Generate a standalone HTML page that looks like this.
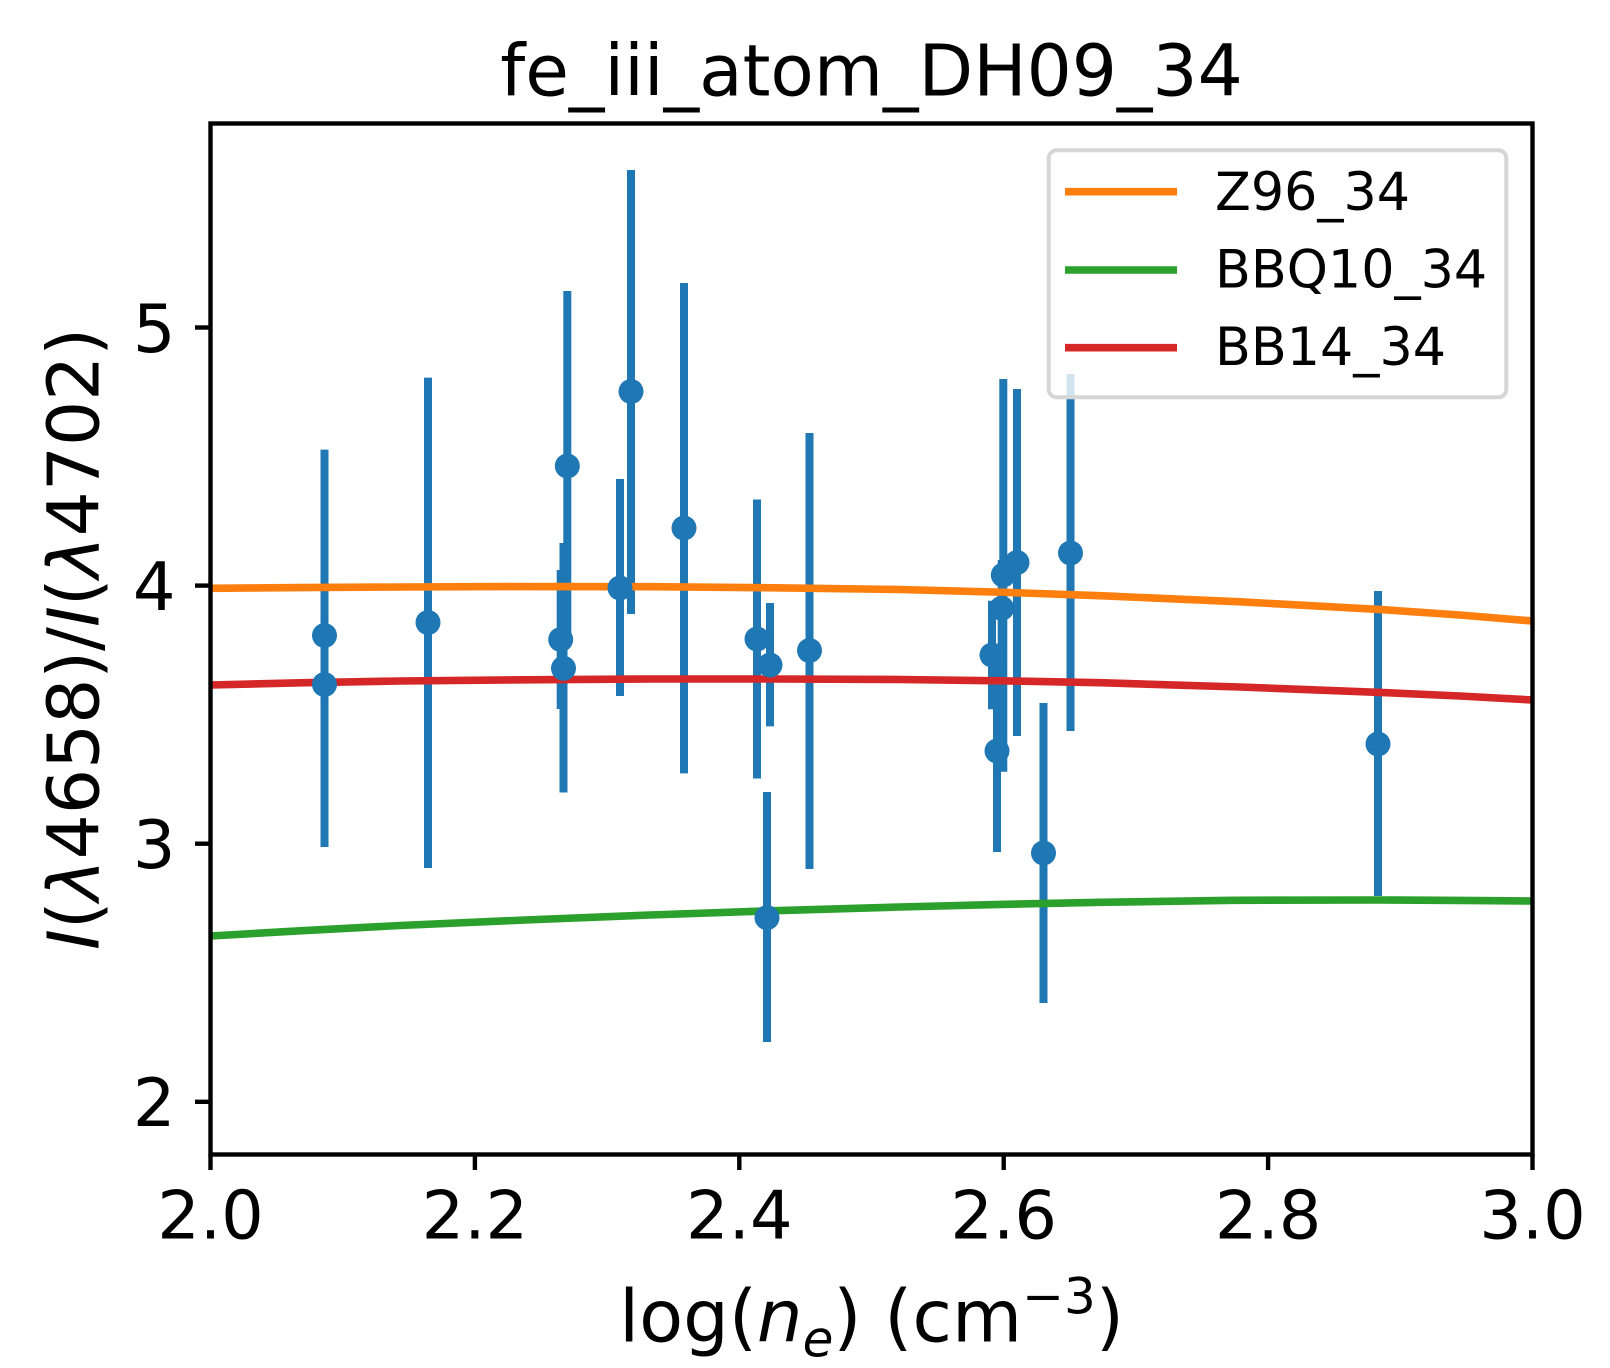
<!DOCTYPE html>
<html>
<head>
<meta charset="utf-8">
<style>
  html, body { margin: 0; padding: 0; background: #ffffff; }
  svg { display: block; }
  text { font-family: "DejaVu Sans", "Liberation Sans", sans-serif; fill: #000; }
</style>
</head>
<body>
<svg width="1610" height="1368" viewBox="0 0 1610 1368" xmlns="http://www.w3.org/2000/svg">
  <rect x="0" y="0" width="1610" height="1368" fill="#ffffff"/>
  <defs>
    <clipPath id="ax"><rect x="210.5" y="123.5" width="1322" height="1031"/></clipPath>
  </defs>

  <!-- Title -->
  <text x="871.5" y="95.5" font-size="71" text-anchor="middle">fe_iii_atom_DH09_34</text>

  <g clip-path="url(#ax)">
    <!-- error bars -->
    <g stroke="#1f77b4" stroke-width="8" fill="none">
      <line x1="324.5" y1="449.6" x2="324.5" y2="822"/>
      <line x1="324.5" y1="521" x2="324.5" y2="847"/>
      <line x1="428" y1="377.6" x2="428" y2="868"/>
      <line x1="560.7" y1="570" x2="560.7" y2="709"/>
      <line x1="563.5" y1="543" x2="563.5" y2="792.5"/>
      <line x1="567.3" y1="291" x2="567.3" y2="641"/>
      <line x1="620" y1="479" x2="620" y2="696"/>
      <line x1="631" y1="170" x2="631" y2="614"/>
      <line x1="684" y1="283" x2="684" y2="773.4"/>
      <line x1="757" y1="499.5" x2="757" y2="778.5"/>
      <line x1="767" y1="792" x2="767" y2="1042"/>
      <line x1="770" y1="603" x2="770" y2="726.4"/>
      <line x1="809.5" y1="433" x2="809.5" y2="869"/>
      <line x1="992" y1="600.7" x2="992" y2="709.3"/>
      <line x1="997" y1="649" x2="997" y2="852"/>
      <line x1="1001.7" y1="560" x2="1001.7" y2="656"/>
      <line x1="1003.3" y1="379" x2="1003.3" y2="771.7"/>
      <line x1="1017" y1="389" x2="1017" y2="736"/>
      <line x1="1043.5" y1="703" x2="1043.5" y2="1003"/>
      <line x1="1070.5" y1="374" x2="1070.5" y2="731"/>
      <line x1="1378" y1="591" x2="1378" y2="896"/>
    </g>

    <!-- model curves -->
    <polyline fill="none" stroke="#ff7f0e" stroke-width="7.6"
      points="210.5,588.3 300,587.6 400,587 500,586.6 650,586.7 775,587.8 900,589.5 1000,592.2 1100,595.7 1240,601.8 1377,609.3 1460,615 1532.5,621"/>
    <polyline fill="none" stroke="#2ca02c" stroke-width="7.6"
      points="210.5,936 300,930.8 400,925.5 525,920 650,915 775,910.7 900,907 1000,904.4 1100,902.3 1233,900.3 1377,900 1460,900.4 1532.5,901"/>
    <polyline fill="none" stroke="#d62728" stroke-width="7.6"
      points="210.5,685 300,682.8 400,681 525,679.8 650,679 775,679 900,679.5 1000,680.8 1100,682.7 1240,687 1377,692.3 1460,696 1532.5,700"/>

    <!-- markers -->
    <g fill="#1f77b4">
      <circle cx="324.5" cy="635.5" r="12.5"/>
      <circle cx="324.5" cy="684.5" r="12.5"/>
      <circle cx="428" cy="622.5" r="12.5"/>
      <circle cx="560.7" cy="639.5" r="12.5"/>
      <circle cx="563.5" cy="668.3" r="12.5"/>
      <circle cx="567.3" cy="466" r="12.5"/>
      <circle cx="620" cy="588" r="12.5"/>
      <circle cx="631" cy="391.5" r="12.5"/>
      <circle cx="684" cy="528" r="12.5"/>
      <circle cx="757" cy="639" r="12.5"/>
      <circle cx="767" cy="917.7" r="12.5"/>
      <circle cx="770" cy="665" r="12.5"/>
      <circle cx="809.5" cy="650.5" r="12.5"/>
      <circle cx="992" cy="655" r="12.5"/>
      <circle cx="997" cy="751" r="12.5"/>
      <circle cx="1001.7" cy="608.3" r="12.5"/>
      <circle cx="1003.3" cy="575" r="12.5"/>
      <circle cx="1017" cy="562.5" r="12.5"/>
      <circle cx="1043.5" cy="853" r="12.5"/>
      <circle cx="1070.5" cy="553" r="12.5"/>
      <circle cx="1378" cy="744" r="12.5"/>
    </g>
  </g>

  <!-- axes frame -->
  <rect x="210.5" y="123.5" width="1322" height="1031" fill="none" stroke="#000" stroke-width="4.4"/>

  <!-- x ticks -->
  <g stroke="#000" stroke-width="4.4">
    <line x1="210.5" y1="1154.5" x2="210.5" y2="1170"/>
    <line x1="474.9" y1="1154.5" x2="474.9" y2="1170"/>
    <line x1="739.3" y1="1154.5" x2="739.3" y2="1170"/>
    <line x1="1003.7" y1="1154.5" x2="1003.7" y2="1170"/>
    <line x1="1268.1" y1="1154.5" x2="1268.1" y2="1170"/>
    <line x1="1532.5" y1="1154.5" x2="1532.5" y2="1170"/>
  </g>
  <g font-size="67" text-anchor="middle">
    <text x="210.5" y="1238.3">2.0</text>
    <text x="474.9" y="1238.3">2.2</text>
    <text x="739.3" y="1238.3">2.4</text>
    <text x="1003.7" y="1238.3">2.6</text>
    <text x="1268.1" y="1238.3">2.8</text>
    <text x="1532.5" y="1238.3">3.0</text>
  </g>

  <!-- y ticks -->
  <g stroke="#000" stroke-width="4.4">
    <line x1="195" y1="1101.8" x2="210.5" y2="1101.8"/>
    <line x1="195" y1="843.7" x2="210.5" y2="843.7"/>
    <line x1="195" y1="585.6" x2="210.5" y2="585.6"/>
    <line x1="195" y1="327.5" x2="210.5" y2="327.5"/>
  </g>
  <g font-size="67" text-anchor="end">
    <text x="175.5" y="1126.2">2</text>
    <text x="175.5" y="868.1">3</text>
    <text x="175.5" y="610">4</text>
    <text x="175.5" y="351.9">5</text>
  </g>

  <!-- x label -->
  <text x="871.5" y="1341.6" font-size="72" text-anchor="middle">log(<tspan font-style="italic">n</tspan><tspan font-size="50" font-style="italic" dy="15">e</tspan><tspan dy="-15">) (cm</tspan><tspan font-size="50" dy="-28">−3</tspan><tspan dy="28">)</tspan></text>

  <!-- y label -->
  <text transform="translate(98.5,639) rotate(-90)" x="0" y="0" font-size="71" text-anchor="middle"><tspan font-style="italic">I</tspan>(<tspan font-style="italic">λ</tspan>4658)/<tspan font-style="italic">I</tspan>(<tspan font-style="italic">λ</tspan>4702)</text>

  <!-- legend -->
  <rect x="1048.7" y="150.3" width="457.6" height="247" rx="8" ry="8" fill="#ffffff" fill-opacity="0.8" stroke="#d6d6d6" stroke-width="4"/>
  <line x1="1065" y1="191.7" x2="1177" y2="191.7" stroke="#ff7f0e" stroke-width="7.6"/>
  <line x1="1065" y1="270" x2="1177" y2="270" stroke="#2ca02c" stroke-width="7.6"/>
  <line x1="1065" y1="347.7" x2="1177" y2="347.7" stroke="#d62728" stroke-width="7.6"/>
  <g font-size="52.3">
    <text x="1215" y="210">Z96_34</text>
    <text x="1215" y="287.5">BBQ10_34</text>
    <text x="1215" y="365">BB14_34</text>
  </g>
</svg>
</body>
</html>
